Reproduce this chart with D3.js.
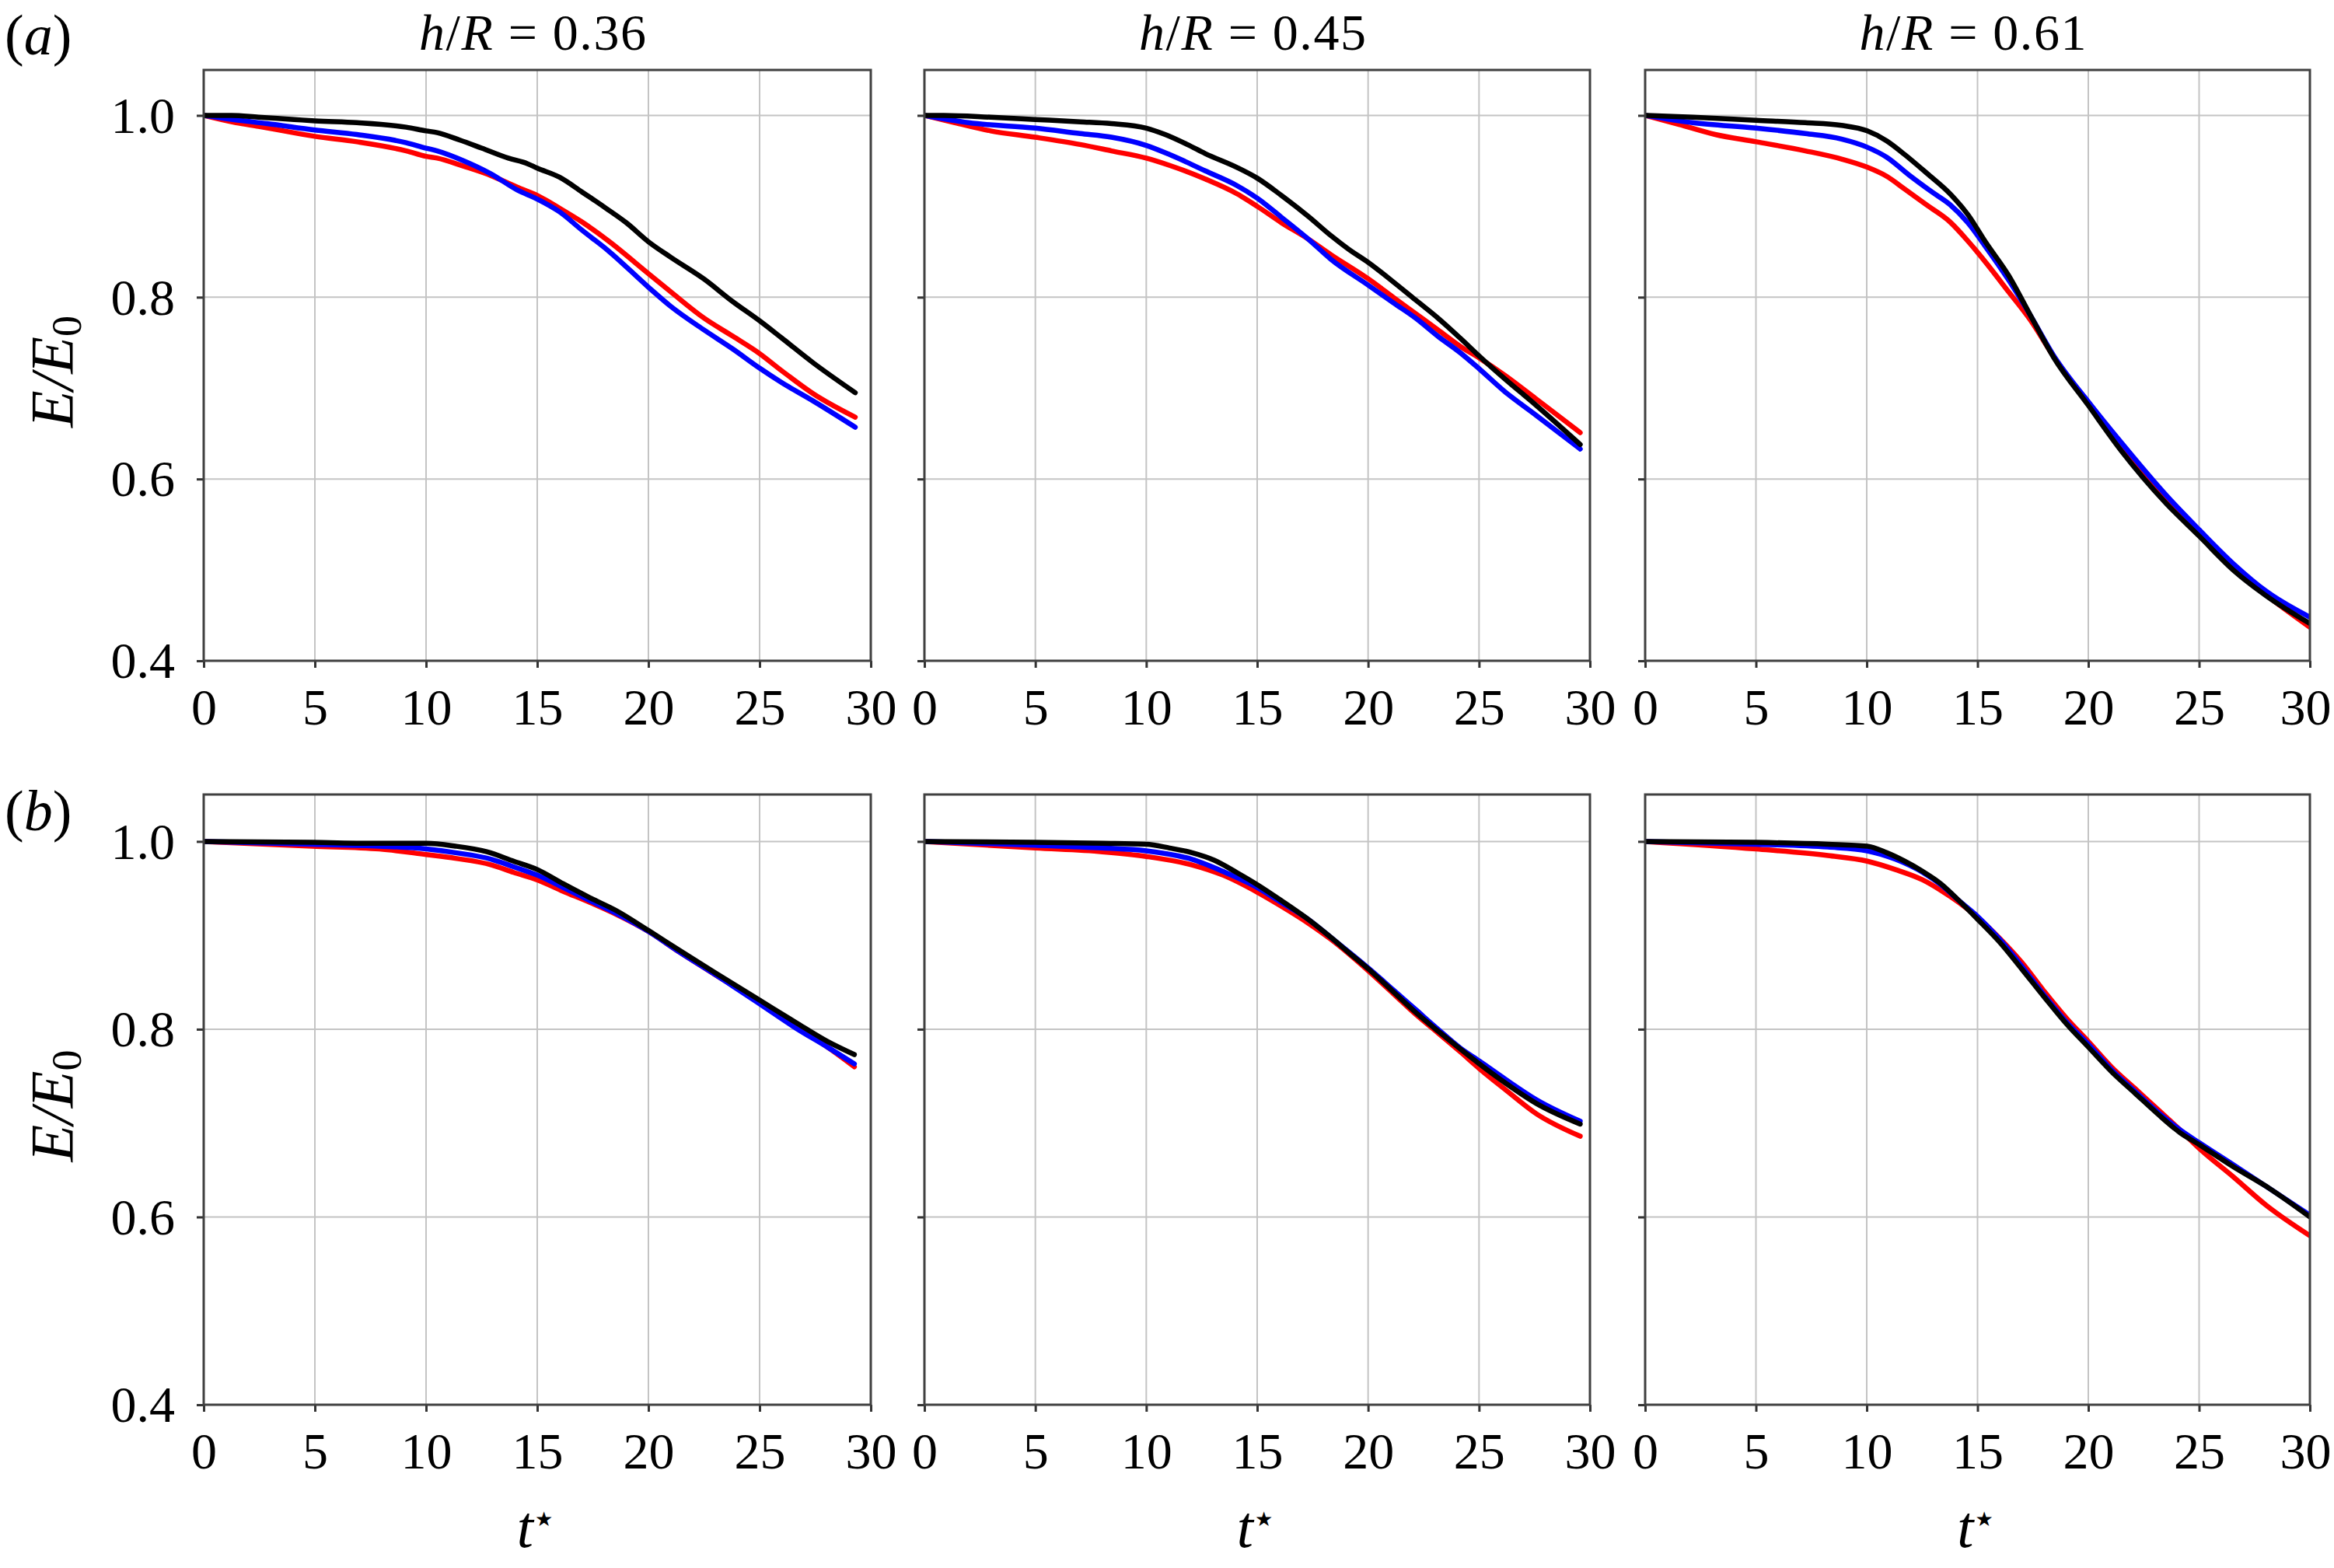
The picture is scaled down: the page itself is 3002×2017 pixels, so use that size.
<!DOCTYPE html>
<html><head><meta charset="utf-8">
<script src="https://cdn.jsdelivr.net/npm/d3@7"></script>
<style>
html,body{margin:0;padding:0;background:#fff;}
svg text{font-family:"Liberation Serif","Times New Roman",Times,serif;fill:#000;}
</style></head>
<body>
<svg id="c" width="3002" height="2017"></svg>
<script>
// ---------- data ----------
const xTicks = [0,5,10,15,20,25,30];
const yTicks = [0.4,0.6,0.8,1.0];
const columnTitles = ["0.36","0.45","0.61"];
const rowLabels = ["a","b"];
const seriesColors = {red:"#ff0000", blue:"#0000ff", black:"#000000"};

// row (a), h/R = 0.36
const a036Red = [[0,1.0],[1.45,0.992],[2.46,0.988],[5.0,0.977],[6.89,0.971],[9.11,0.961],[10.0,0.955],[10.5,0.953],[11.7,0.944],[12.9,0.934],[14.1,0.921],[15.0,0.912],[16.0,0.898],[17.0,0.883],[18.2,0.862],[20.0,0.826],[21.0,0.806],[22.5,0.777],[23.8,0.757],[25.0,0.738],[26.0,0.719],[27.4,0.694],[29.3,0.668]];
const a036Blue = [[0,1.0],[1.45,0.995],[2.86,0.991],[5.0,0.984],[6.89,0.979],[9.11,0.970],[10.0,0.964],[10.5,0.961],[11.7,0.950],[12.9,0.936],[14.1,0.918],[15.0,0.908],[16.0,0.894],[17.0,0.874],[18.2,0.851],[20.0,0.811],[21.0,0.790],[22.5,0.764],[23.8,0.743],[25.0,0.722],[26.0,0.706],[27.4,0.686],[29.3,0.657]];
const a036Black = [[0,1.0],[1.25,1.0],[2.46,0.998],[4.07,0.9955],[5.0,0.994],[6.89,0.992],[9.11,0.987],[10.0,0.983],[10.5,0.981],[11.5,0.973],[12.5,0.964],[13.7,0.953],[14.55,0.947],[15.0,0.942],[16.0,0.932],[17.0,0.916],[18.2,0.896],[19.0,0.882],[20.0,0.861],[21.0,0.844],[22.5,0.820],[23.8,0.795],[25.0,0.774],[26.0,0.755],[27.4,0.728],[29.3,0.695]];
// row (a), h/R = 0.45
const a045Red = [[0,1.0],[1.37,0.992],[2.98,0.983],[5.0,0.976],[7.02,0.968],[8.43,0.961],[10.0,0.953],[11.05,0.945],[12.66,0.930],[14.07,0.914],[15.0,0.900],[16.09,0.882],[17.3,0.864],[18.31,0.847],[20.02,0.820],[21.13,0.800],[22.14,0.782],[23.15,0.764],[24.15,0.746],[25.02,0.733],[26.17,0.714],[27.58,0.688],[29.56,0.651]];
const a045Blue = [[0,1.0],[1.98,0.992],[5.0,0.986],[7.02,0.980],[8.43,0.976],[10.0,0.967],[11.05,0.957],[12.66,0.939],[14.07,0.923],[15.0,0.909],[16.09,0.888],[17.3,0.864],[18.31,0.842],[20.02,0.813],[21.13,0.794],[22.14,0.777],[23.15,0.757],[24.15,0.739],[25.02,0.721],[26.17,0.696],[27.58,0.670],[29.56,0.633]];
const a045Black = [[0,1.0],[0.87,1.0],[2.98,0.998],[5.0,0.9955],[7.02,0.993],[8.43,0.991],[10.0,0.986],[10.85,0.979],[11.85,0.968],[12.66,0.958],[14.07,0.943],[15.0,0.931],[16.09,0.912],[17.3,0.889],[18.31,0.868],[19.11,0.853],[20.02,0.838],[21.13,0.817],[22.14,0.797],[23.15,0.777],[24.15,0.755],[25.02,0.735],[26.17,0.710],[27.58,0.681],[29.56,0.638]];
// row (a), h/R = 0.61
const a061Red = [[0,1.0],[1.53,0.990],[3.16,0.979],[5.01,0.971],[7.23,0.961],[8.86,0.952],[10.02,0.943],[10.9,0.933],[11.71,0.919],[12.73,0.901],[13.75,0.883],[14.56,0.862],[15.38,0.838],[16.4,0.806],[17.41,0.774],[18.43,0.735],[20.0,0.683],[21.49,0.636],[23.52,0.578],[25.01,0.542],[26.58,0.502],[28.0,0.473],[30.0,0.437]];
const a061Blue = [[0,1.0],[2.14,0.992],[5.01,0.986],[7.23,0.980],[8.86,0.974],[10.02,0.965],[10.9,0.954],[11.93,0.934],[12.93,0.916],[13.75,0.902],[14.56,0.882],[15.38,0.855],[16.4,0.819],[17.41,0.779],[18.43,0.736],[20.0,0.685],[21.49,0.640],[23.52,0.582],[25.01,0.544],[26.58,0.506],[28.0,0.477],[30.0,0.448]];
const a061Black = [[0,1.0],[2.14,0.998],[5.01,0.9946],[7.23,0.992],[8.86,0.989],[10.02,0.983],[10.9,0.972],[11.71,0.957],[12.73,0.936],[13.75,0.914],[14.56,0.891],[15.38,0.860],[16.4,0.824],[17.41,0.779],[18.43,0.734],[20.0,0.681],[21.49,0.631],[23.52,0.573],[25.01,0.537],[26.58,0.499],[28.0,0.472],[30.0,0.441]];
// row (b), h/R = 0.36
const b036Red = [[0,1.0],[4.88,0.995],[7.9,0.992],[10.01,0.986],[11.32,0.982],[12.94,0.975],[13.94,0.967],[15.01,0.959],[16.16,0.947],[17.37,0.935],[18.58,0.922],[20.01,0.904],[21.4,0.882],[23.01,0.858],[25.0,0.829],[26.64,0.803],[28.05,0.781],[29.26,0.760]];
const b036Blue = [[0,1.0],[4.88,0.997],[7.9,0.995],[10.01,0.992],[11.32,0.988],[12.94,0.981],[13.94,0.973],[15.01,0.964],[16.16,0.951],[17.37,0.937],[18.58,0.923],[20.01,0.904],[21.4,0.882],[23.01,0.858],[25.0,0.827],[26.64,0.801],[28.05,0.781],[29.26,0.763]];
const b036Black = [[0,1.0],[4.88,0.999],[7.9,0.998],[10.01,0.998],[11.32,0.995],[12.73,0.989],[13.94,0.979],[15.01,0.970],[16.16,0.955],[17.37,0.940],[18.58,0.926],[20.01,0.905],[21.4,0.884],[23.01,0.860],[25.0,0.831],[26.64,0.807],[28.05,0.787],[29.26,0.773]];
// row (b), h/R = 0.45
const b045Red = [[0,1.0],[5.0,0.993],[8.02,0.989],[10.0,0.984],[12.06,0.975],[13.47,0.964],[15.0,0.946],[16.09,0.931],[17.3,0.913],[18.31,0.896],[20.02,0.862],[21.13,0.838],[22.14,0.816],[23.15,0.796],[24.15,0.776],[25.02,0.758],[26.17,0.736],[27.58,0.710],[29.56,0.686]];
const b045Blue = [[0,1.0],[5.0,0.996],[8.02,0.993],[10.0,0.990],[12.06,0.981],[13.47,0.968],[15.0,0.951],[16.09,0.935],[17.3,0.917],[18.31,0.898],[20.02,0.865],[21.13,0.842],[22.14,0.821],[23.15,0.800],[24.15,0.780],[25.02,0.766],[26.17,0.747],[27.58,0.725],[29.56,0.702]];
const b045Black = [[0,1.0],[5.0,0.999],[8.02,0.998],[10.0,0.997],[11.05,0.993],[12.06,0.988],[13.06,0.980],[14.07,0.967],[15.0,0.954],[16.09,0.937],[17.3,0.917],[18.31,0.898],[19.11,0.882],[20.02,0.864],[21.13,0.840],[22.14,0.818],[23.15,0.798],[24.15,0.779],[25.02,0.763],[26.17,0.743],[27.58,0.721],[29.56,0.699]];
// row (b), h/R = 0.61
const b061Red = [[0,1.0],[5.01,0.992],[8.25,0.985],[10.02,0.979],[11.3,0.970],[12.53,0.959],[13.34,0.948],[14.16,0.935],[15.01,0.919],[15.99,0.897],[17.0,0.871],[18.02,0.840],[19.04,0.811],[20.0,0.787],[21.08,0.759],[22.1,0.737],[23.12,0.715],[24.13,0.693],[25.01,0.673],[26.58,0.642],[28.0,0.613],[30.0,0.580]];
const b061Blue = [[0,1.0],[5.01,0.997],[8.25,0.994],[10.02,0.990],[11.3,0.981],[12.53,0.967],[13.34,0.954],[14.16,0.937],[15.01,0.920],[15.99,0.896],[17.0,0.867],[18.02,0.836],[19.04,0.807],[20.0,0.784],[21.08,0.756],[22.1,0.734],[23.12,0.712],[24.13,0.693],[25.01,0.679],[26.58,0.655],[28.0,0.633],[30.0,0.602]];
const b061Black = [[0,1.0],[5.01,0.999],[8.25,0.997],[10.02,0.995],[10.9,0.988],[11.71,0.979],[12.53,0.968],[13.34,0.955],[14.16,0.937],[15.01,0.917],[15.99,0.893],[17.0,0.864],[18.02,0.834],[19.04,0.805],[20.0,0.781],[21.08,0.754],[22.1,0.732],[23.12,0.710],[24.13,0.690],[25.01,0.677],[26.58,0.653],[28.0,0.633],[30.0,0.600]];

const panels = [
  [ {red:a036Red, blue:a036Blue, black:a036Black}, {red:a045Red, blue:a045Blue, black:a045Black}, {red:a061Red, blue:a061Blue, black:a061Black} ],
  [ {red:b036Red, blue:b036Blue, black:b036Black}, {red:b045Red, blue:b045Blue, black:b045Black}, {red:b061Red, blue:b061Blue, black:b061Black} ]
];

// ---------- layout ----------
const colX = [[262,1120],[1189,2045],[2116,2971]];
const rowY = [[90,850],[1022,1807]];
const FS = 66;

const svg = d3.select("#c");
const defs = svg.append("defs");

panels.forEach((row, r) => {
  row.forEach((pd, c) => {
    const [x0,x1] = colX[c], [y0,y1] = rowY[r];
    const x = d3.scaleLinear().domain([0,30]).range([x0,x1]);
    const y = d3.scaleLinear().domain([0.4,1.05]).range([y1,y0]);
    const g = svg.append("g");
    const cid = `clip${r}${c}`;
    defs.append("clipPath").attr("id",cid).append("rect")
      .attr("x",x0).attr("y",y0).attr("width",x1-x0).attr("height",y1-y0);
    // grid
    g.append("g").selectAll("line").data(xTicks.slice(1,-1)).join("line")
      .attr("x1",d=>x(d)).attr("x2",d=>x(d)).attr("y1",y0).attr("y2",y1)
      .attr("stroke","#c4c4c4").attr("stroke-width",2);
    g.append("g").selectAll("line").data(yTicks.filter(v=>v>0.4)).join("line")
      .attr("y1",d=>y(d)).attr("y2",d=>y(d)).attr("x1",x0).attr("x2",x1)
      .attr("stroke","#c4c4c4").attr("stroke-width",2);
    // lines
    const line = d3.line().x(d=>x(d[0])).y(d=>y(d[1])).curve(d3.curveMonotoneX);
    const lg = g.append("g").attr("clip-path",`url(#${cid})`);
    ["red","blue","black"].forEach(k => {
      lg.append("path").datum(pd[k]).attr("d",line)
        .attr("fill","none").attr("stroke",seriesColors[k])
        .attr("stroke-width",6.5).attr("stroke-linejoin","round").attr("stroke-linecap","round");
    });
    // axes
    const ax = g.append("g").attr("transform",`translate(0,${y1})`)
      .call(d3.axisBottom(x).tickValues(xTicks).tickSize(9).tickPadding(26).tickFormat(d3.format("d")));
    ax.select(".domain").remove();
    ax.selectAll("line").attr("stroke","#333").attr("stroke-width",3);
    ax.selectAll("text").attr("font-size",FS).attr("font-family","Liberation Serif");
    if (c===2) {
      ax.selectAll("text").filter(d=>d===30).attr("text-anchor","end").attr("x",27);
    }
    const ay = g.append("g").attr("transform",`translate(${x0},0)`)
      .call(d3.axisLeft(y).tickValues(yTicks).tickSize(9).tickPadding(28).tickFormat(c===0?d3.format(".1f"):()=>""));
    ay.select(".domain").remove();
    ay.selectAll("line").attr("stroke","#333").attr("stroke-width",3);
    ay.selectAll("text").attr("font-size",FS).attr("font-family","Liberation Serif").attr("dy","0.33em");
    // frame
    g.append("rect").attr("x",x0).attr("y",y0).attr("width",x1-x0).attr("height",y1-y0)
      .attr("fill","none").attr("stroke","#404040").attr("stroke-width",3);
    // column titles
    if (r===0) {
      const t = svg.append("text").attr("x",(x0+x1)/2 - 6).attr("y",64).attr("text-anchor","middle")
        .attr("font-size",66).attr("textLength",292).attr("lengthAdjust","spacing");
      t.append("tspan").attr("font-style","italic").text("h");
      t.append("tspan").text("/");
      t.append("tspan").attr("font-style","italic").text("R");
      t.append("tspan").text(" = " + columnTitles[c]);
    }
    // x-axis label
    if (r===1) {
      const t = svg.append("text").attr("x",(x0+x1)/2 - 3).attr("y",1990).attr("text-anchor","middle").attr("font-size",76);
      t.append("tspan").attr("font-style","italic").text("t");
      t.append("tspan").attr("font-size",26).attr("dx",2).attr("dy",-27).attr("font-family","DejaVu Sans").text("★");
    }
    // y-axis label and row label
    if (c===0) {
      const t = svg.append("text").attr("transform",`translate(93,${(y0+y1)/2 + 8}) rotate(-90)`)
        .attr("text-anchor","middle").attr("font-size",78);
      t.append("tspan").attr("font-style","italic").text("E");
      t.append("tspan").attr("font-style","italic").text("/");
      t.append("tspan").attr("font-style","italic").text("E");
      t.append("tspan").attr("font-size",54).attr("dy",11).text("0");
      const lab = svg.append("text").attr("x",6).attr("y",r===0?70:1068).attr("font-size",74);
      lab.append("tspan").text("(");
      lab.append("tspan").attr("font-style","italic").text(rowLabels[r]);
      lab.append("tspan").text(")");
    }
  });
});
</script>
</body></html>
